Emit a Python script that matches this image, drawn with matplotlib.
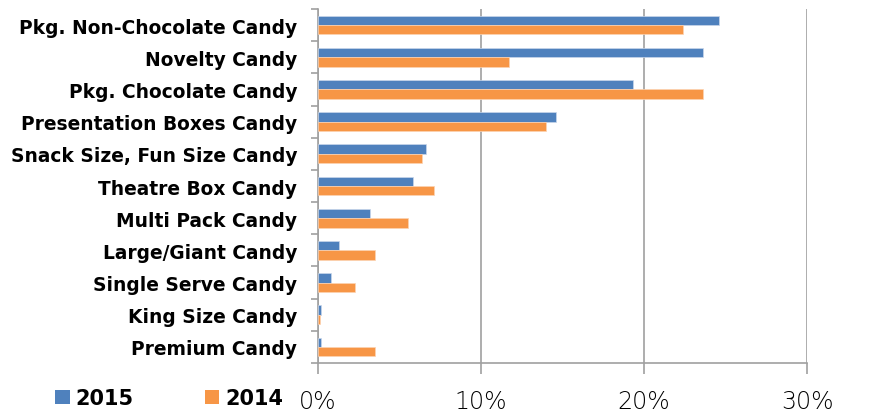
import numpy as np
import matplotlib.pyplot as plt
from matplotlib.patches import Patch
from matplotlib.ticker import FixedLocator

categories = [
    "Pkg. Non-Chocolate Candy",
    "Novelty Candy",
    "Pkg. Chocolate Candy",
    "Presentation Boxes Candy",
    "Snack Size, Fun Size Candy",
    "Theatre Box Candy",
    "Multi Pack Candy",
    "Large/Giant Candy",
    "Single Serve Candy",
    "King Size Candy",
    "Premium Candy",
]
share_2015 = [24.6, 23.6, 19.3, 14.6, 6.6, 5.8, 3.2, 1.3, 0.8, 0.2, 0.2]
share_2014 = [22.4, 11.7, 23.6, 14.0, 6.4, 7.1, 5.5, 3.5, 2.3, 0.1, 3.5]
x_ticks = [0, 10, 20, 30]

blue = "#4F81BD"
orange = "#F79646"
grey = "#A0A0A0"

fig = plt.figure(figsize=(8.7, 4.14), dpi=100)
ax = fig.add_axes([0.3655, 0.1208, 0.5621, 0.855])

y = np.arange(len(categories))
h = 0.29
ax.barh(y - h / 2, share_2015, height=h, color=blue, edgecolor="#C9D7EA", linewidth=0.5, zorder=3)
ax.barh(y + h / 2, share_2014, height=h, color=orange, edgecolor="#FCD3B3", linewidth=0.5, zorder=3)

ax.set_ylim(len(categories) - 0.5, -0.5)
ax.set_xlim(0, 30)
ax.set_yticks(y)
ax.set_yticklabels(categories, fontsize=13.4, fontweight="bold", family="DejaVu Sans")
ax.tick_params(axis="y", length=0, pad=15)
ax.yaxis.set_minor_locator(FixedLocator(np.arange(-0.5, len(categories), 1)))
ax.tick_params(axis="y", which="minor", length=5, color=grey, width=1.2)

ax.set_xticks(x_ticks)
ax.set_xticklabels([f"{t}%" for t in x_ticks], fontsize=17, fontweight="light", family="DejaVu Sans")
ax.tick_params(axis="x", length=8, color=grey, width=1.2, pad=11)
ax.grid(axis="x", color=grey, linewidth=1.2, zorder=0)

for side in ["top", "right"]:
    ax.spines[side].set_visible(False)
for side in ["left", "bottom"]:
    ax.spines[side].set_color(grey)
    ax.spines[side].set_linewidth(1.2)

handles = [Patch(facecolor=blue, label="2015"), Patch(facecolor=orange, label="2014")]
fig.legend(handles=handles, loc="center left", bbox_to_anchor=(0.0632, 0.036), ncol=2, frameon=False,
           prop={"weight": "bold", "size": 15}, handlelength=0.7, handleheight=0.7,
           handletextpad=0.3, columnspacing=3.4, borderpad=0, borderaxespad=0)

fig.savefig("out.png", dpi=100)
